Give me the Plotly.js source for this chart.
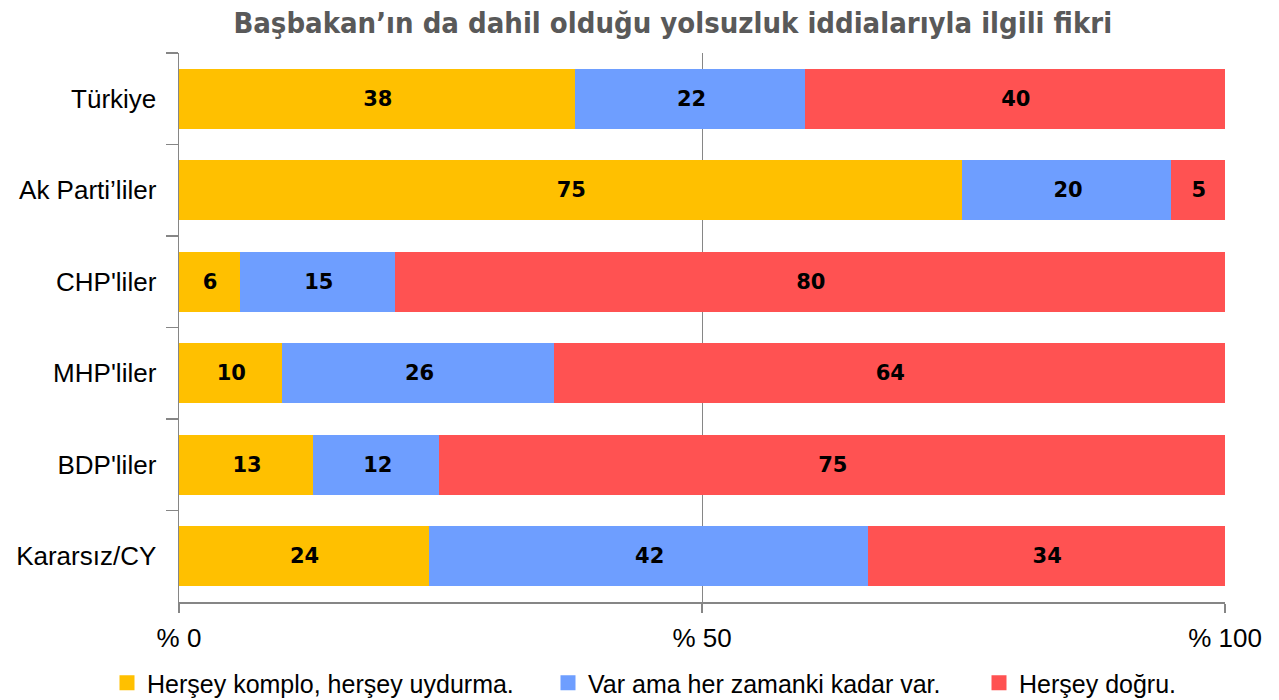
<!DOCTYPE html>
<html>
<head>
<meta charset="utf-8">
<script src="https://cdn.plot.ly/plotly-3.0.1.min.js"></script>
<style>html,body{margin:0;padding:0;background:#fff;}#chart{width:1279px;height:700px;}</style>
</head>
<body>
<div id="chart"></div>
<script>
const categories = ["Türkiye", "Ak Parti’liler", "CHP'liler", "MHP'liler", "BDP'liler", "Kararsız/CY"];
const seriesNames = ["Herşey komplo, herşey uydurma.", "Var ama her zamanki kadar var.", "Herşey doğru."];
const komplo = [38, 75, 6, 10, 13, 24];
const varAma = [22, 20, 15, 26, 12, 42];
const dogru = [40, 5, 80, 64, 75, 34];
const colors = ["#FFC000", "#6E9EFF", "#FF5252"];
const xTickVals = [0, 50, 100];
const xTickText = ["% 0", "% 50", "% 100"];

const series = [komplo, varAma, dogru];
const legendIds = ["legend", "legend2", "legend3"];
const traces = series.map((vals, i) => ({
  type: "bar",
  orientation: "h",
  name: seriesNames[i],
  y: categories,
  x: vals,
  text: vals.map(String),
  textposition: "inside",
  insidetextanchor: "middle",
  constraintext: "none",
  textangle: 0,
  textfont: {family: "DejaVu Sans", size: 21, color: "#000000", weight: "bold"},
  marker: {color: colors[i], line: {width: 3, color: colors[i]}},
  legend: legendIds[i],
  hoverinfo: "none"
}));

const legFont = {family: "Liberation Sans", size: 25, color: "#000000"};
const layout = {
  width: 1279,
  height: 700,
  paper_bgcolor: "#ffffff",
  plot_bgcolor: "#ffffff",
  margin: {l: 179, r: 54, t: 53, b: 98},
  barmode: "stack",
  barnorm: "percent",
  bargap: 0.375,
  title: {
    text: "Başbakan’ın da dahil olduğu yolsuzluk iddialarıyla ilgili fikri",
    font: {family: "DejaVu Sans Condensed", size: 29, color: "#595959", weight: "bold"},
    x: 0.526, xanchor: "center", xref: "container",
    y: 0.968, yanchor: "middle", yref: "container"
  },
  xaxis: {
    range: [0, 100],
    tickvals: xTickVals,
    ticktext: xTickText,
    showgrid: true,
    gridcolor: "#868686",
    gridwidth: 1,
    zeroline: false,
    showline: true,
    linecolor: "#868686",
    linewidth: 1.5,
    ticks: "outside",
    ticklen: 9,
    tickcolor: "#868686",
    tickwidth: 1.5,
    ticklabelstandoff: 3,
    tickfont: {family: "Liberation Sans", size: 26, color: "#000000"},
    fixedrange: true
  },
  yaxis: {
    type: "category",
    autorange: "reversed",
    tickson: "boundaries",
    ticks: "outside",
    ticklen: 12,
    tickcolor: "#868686",
    tickwidth: 1.5,
    showline: true,
    linecolor: "#868686",
    linewidth: 1.5,
    showgrid: false,
    ticklabelstandoff: 16,
    tickfont: {family: "Liberation Sans", size: 26, color: "#000000"},
    fixedrange: true
  },
  legend: {orientation: "h", xref: "container", yref: "container", x: 107/1279, xanchor: "left", y: 17/700, yanchor: "middle", font: legFont, bgcolor: "rgba(0,0,0,0)"},
  legend2: {orientation: "h", xref: "container", yref: "container", x: 548/1279, xanchor: "left", y: 17/700, yanchor: "middle", font: legFont, bgcolor: "rgba(0,0,0,0)"},
  legend3: {orientation: "h", xref: "container", yref: "container", x: 979/1279, xanchor: "left", y: 17/700, yanchor: "middle", font: legFont, bgcolor: "rgba(0,0,0,0)"},
  showlegend: true
};

Plotly.newPlot("chart", traces, layout, {displayModeBar: false, staticPlot: true});
</script>
</body>
</html>
